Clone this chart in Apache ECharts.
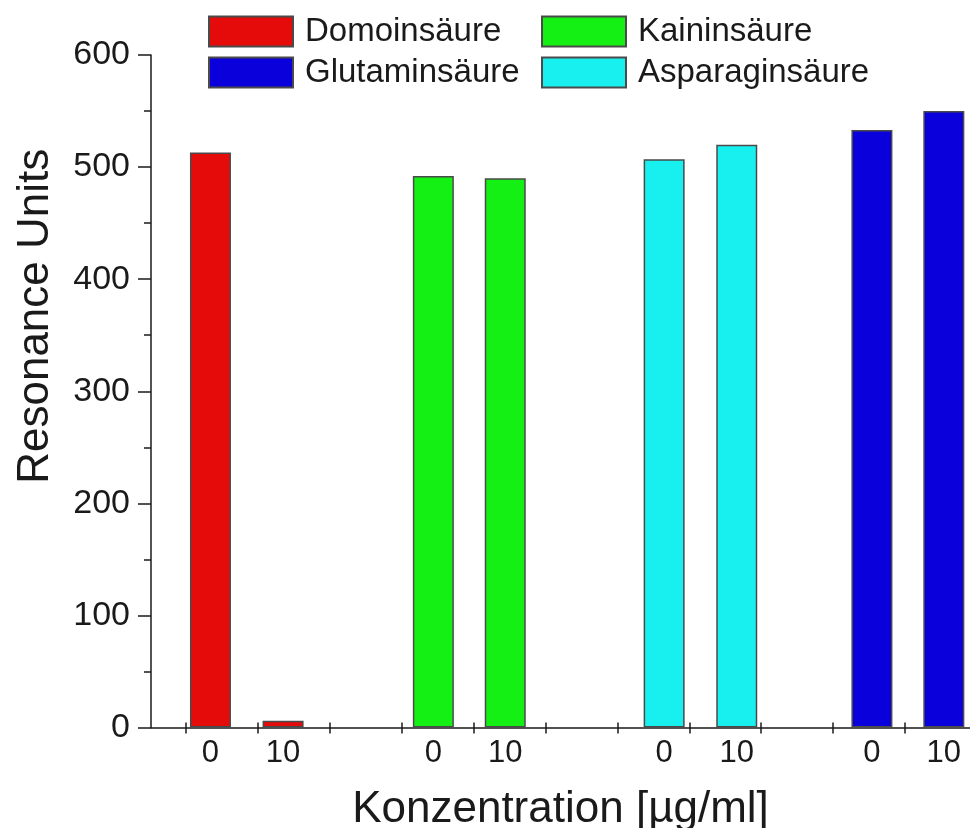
<!DOCTYPE html>
<html>
<head>
<meta charset="utf-8">
<script src="https://cdn.jsdelivr.net/npm/echarts@6/dist/echarts.min.js"></script>
<style>
  html, body { margin: 0; padding: 0; background: #ffffff; }
  #chart { width: 970px; height: 828px; }
</style>
</head>
<body>
<div id="chart"></div>
<script>
// Concentration levels shown under each pair of bars
const concentrations = ['0', '10'];

// Resonance units per acid, one value per concentration
const domoinValues = [513, 6];
const kaininValues = [492, 490];
const asparaginValues = [507, 520];
const glutaminValues = [533, 550];

// Position of each bar on the x scale (one tick = one slot)
const domoinSlots = [0.34, 1.35];
const kaininSlots = [3.44, 4.44];
const asparaginSlots = [6.65, 7.66];
const glutaminSlots = [9.54, 10.54];

// Tick marks
const xTicks = [0, 1, 2, 3, 4, 5, 6, 7, 8, 9, 10];
const yTicks = [0, 100, 200, 300, 400, 500, 600];

const FONT = "'Liberation Sans', Arial, sans-serif";
const INK = '#1a1a1a';
const EDGE = '#4a4a4a';

const groups = [
  { name: 'Domoinsäure',    color: '#e60b0b', slots: domoinSlots,    values: domoinValues },
  { name: 'Kaininsäure',    color: '#14f014', slots: kaininSlots,    values: kaininValues },
  { name: 'Asparaginsäure', color: '#18f0f0', slots: asparaginSlots, values: asparaginValues },
  { name: 'Glutaminsäure',  color: '#0a00dc', slots: glutaminSlots,  values: glutaminValues }
];

// x-axis labels sit under every bar and name its concentration
const labelSlots = [];
const labelTexts = [];
groups.forEach(g => g.slots.forEach((s, i) => { labelSlots.push(s); labelTexts.push(concentrations[i]); }));

const xMin = -0.487;
const xMax = 10.904;

const series = groups.map(g => ({
  name: g.name,
  type: 'bar',
  barWidth: 41,
  barGap: '-100%',
  xAxisIndex: 0,
  yAxisIndex: 0,
  itemStyle: { color: g.color, borderColor: EDGE, borderWidth: 1.5 },
  emphasis: { disabled: true },
  data: g.slots.map((s, i) => [s, g.values[i]])
}));

const legendBase = {
  orient: 'vertical',
  top: 15,
  padding: 0,
  itemWidth: 84,
  itemHeight: 30,
  itemGap: 8,
  icon: 'rect',
  selectedMode: false,
  textStyle: { fontFamily: FONT, fontSize: 33, color: INK, padding: [0, 0, 0, 7] }
};

const option = {
  animation: false,
  backgroundColor: '#ffffff',
  grid: { left: 151, right: 0, top: 55, bottom: 100.5, containLabel: false, outerBoundsMode: 'none' },
  legend: [
    Object.assign({}, legendBase, { left: 208, data: ['Domoinsäure', 'Glutaminsäure'] }),
    Object.assign({}, legendBase, { left: 541, data: ['Kaininsäure', 'Asparaginsäure'] })
  ],
  xAxis: [
    {
      type: 'value',
      min: xMin,
      max: xMax,
      position: 'bottom',
      name: 'Konzentration [µg/ml]',
      nameLocation: 'middle',
      nameGap: 60,
      nameTextStyle: { fontFamily: FONT, fontSize: 44, color: INK },
      axisLine: { show: true, onZero: false, lineStyle: { color: INK, width: 1.5 } },
      axisTick: { show: true, length: 6, inside: false, customValues: xTicks, lineStyle: { color: INK, width: 1.5 } },
      axisLabel: {
        show: true,
        customValues: labelSlots,
        margin: 10,
        fontFamily: FONT,
        fontSize: 31,
        color: INK,
        formatter: v => {
          const i = labelSlots.findIndex(s => Math.abs(s - v) < 1e-6);
          return i >= 0 ? labelTexts[i] : '';
        }
      },
      splitLine: { show: false }
    },
    {
      // same scale, ticks drawn upward so they cross the axis line
      type: 'value',
      min: xMin,
      max: xMax,
      position: 'bottom',
      axisLine: { show: false, onZero: false },
      axisTick: { show: true, length: 5, inside: true, customValues: xTicks, lineStyle: { color: INK, width: 1.5 } },
      axisLabel: { show: false },
      splitLine: { show: false }
    }
  ],
  yAxis: {
    type: 'value',
    min: yTicks[0],
    max: yTicks[yTicks.length - 1],
    interval: 100,
    position: 'left',
    name: 'Resonance Units',
    nameLocation: 'middle',
    nameGap: 93,
    nameTextStyle: { fontFamily: FONT, fontSize: 44, color: INK, padding: [0, 0, 0, 150] },
    axisLine: { show: true, onZero: false, lineStyle: { color: INK, width: 1.5 } },
    axisTick: { show: true, length: 13, lineStyle: { color: INK, width: 1.5 } },
    minorTick: { show: true, splitNumber: 2, length: 7, lineStyle: { color: INK, width: 1.5 } },
    axisLabel: { fontFamily: FONT, fontSize: 34, color: INK, margin: 21 },
    splitLine: { show: false }
  },
  series: series
};

const chart = echarts.init(document.getElementById('chart'), null, { renderer: 'canvas' });
chart.setOption(option);
</script>
</body>
</html>
